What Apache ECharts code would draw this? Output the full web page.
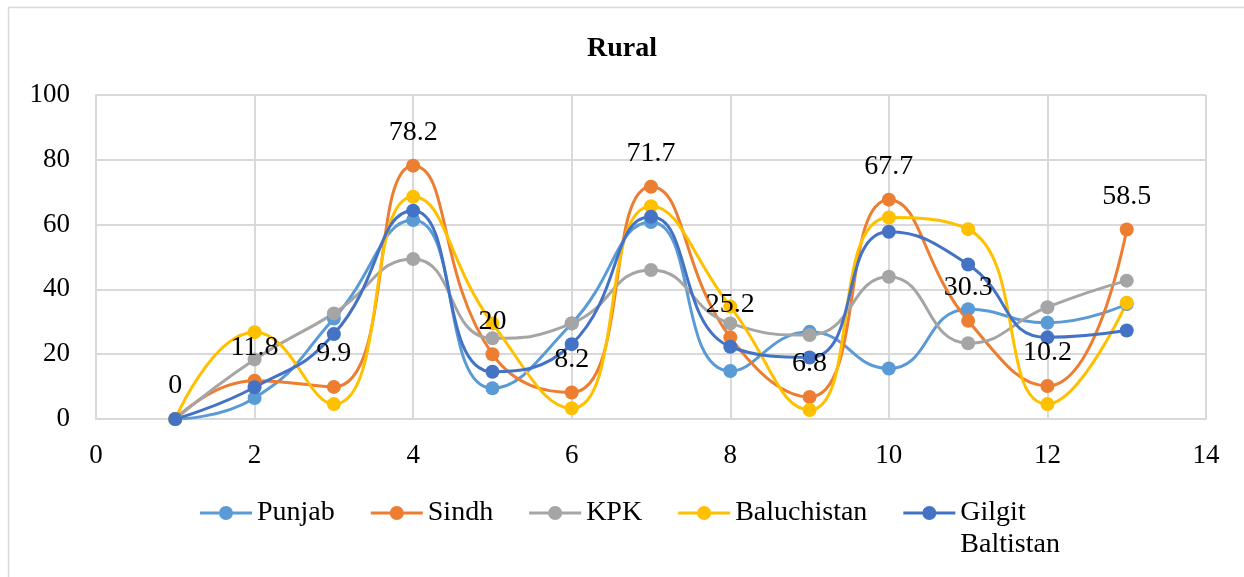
<!DOCTYPE html>
<html>
<head>
<meta charset="utf-8">
<script src="https://cdn.jsdelivr.net/npm/echarts@6/dist/echarts.min.js"></script>
<style>
  html, body { margin: 0; padding: 0; background: #fff; }
  #echarts { width: 1244px; height: 577px; }
</style>
</head>
<body>
<div id="echarts"></div>
<script>
// x positions (1..13)
var xs = [1, 2, 3, 4, 5, 6, 7, 8, 9, 10, 11, 12, 13];

var punjab      = [0, 6.5, 31, 61.4, 9.5, 29.5, 60.8, 14.8, 26.9, 15.6, 33.9, 29.7, 35.5];
var sindh       = [0, 11.8, 9.9, 78.2, 20, 8.2, 71.7, 25.2, 6.8, 67.7, 30.3, 10.2, 58.5];
var kpk         = [0, 18.4, 32.6, 49.4, 24.9, 29.5, 46.0, 29.5, 25.9, 43.9, 23.4, 34.5, 42.7];
var baluchistan = [0, 26.8, 4.6, 68.6, 29.5, 3.3, 65.7, 34.7, 2.8, 62.2, 58.6, 4.6, 35.9];
var gilgit      = [0, 9.8, 26.2, 64.3, 14.6, 23.1, 62.4, 22.3, 19.0, 57.8, 47.7, 25.2, 27.3];

var FONT = '"Liberation Serif", "Times New Roman", serif';

// legend marker: line + dot on the first text line (tiny corner marks keep the 52x64 box)
var LEGEND_ICON = 'path://M0,0 L0.01,0 L0,0.01 Z M0,14.5 L52,14.5 L52,17.5 L0,17.5 Z ' +
    'M19,16 A7,7 0 1,1 33,16 A7,7 0 1,1 19,16 Z M52,64 L51.99,64 L52,63.99 Z';

function pairs(arr) {
    return xs.map(function (x, i) { return [x, arr[i]]; });
}

function makeSeries(name, arr, color, withLabel) {
    return {
        name: name,
        type: 'line',
        smooth: 0.5,
        data: pairs(arr),
        symbol: 'circle',
        symbolSize: 14,
        lineStyle: { color: color, width: 3 },
        itemStyle: { color: color },
        label: {
            show: !!withLabel,
            position: 'top',
            distance: 12,
            color: '#000',
            fontFamily: FONT,
            fontSize: 28,
            formatter: function (p) { return p.value[1]; }
        },
        emphasis: { disabled: true }
    };
}

var myChart = echarts.init(document.getElementById('echarts'));
var option = {
    animation: false,
    title: {
        text: 'Rural',
        left: 'center',
        top: 30,
        textStyle: { fontFamily: FONT, fontWeight: 'bold', fontSize: 28, color: '#000' }
    },
    graphic: [{
        type: 'rect',
        shape: { x: 8.5, y: 7.5, width: 1300, height: 700 },
        style: { fill: 'none', stroke: '#D9D9D9', lineWidth: 1.5 },
        silent: true
    }],
    legend: {
        left: 200,
        top: 497,
        padding: 0,
        itemWidth: 52,
        itemHeight: 64,
        itemGap: 36,
        icon: LEGEND_ICON,
        data: ['Punjab', 'Sindh', 'KPK', 'Baluchistan', 'Gilgit Baltistan'],
        formatter: function (name) {
            return name === 'Gilgit Baltistan' ? 'Gilgit\nBaltistan' : name + '\n ';
        },
        textStyle: {
            fontFamily: FONT, fontSize: 28, color: '#000', lineHeight: 32
        }
    },
    grid: {
        left: 96,
        right: 38,
        top: 95,
        bottom: 158
    },
    xAxis: {
        type: 'value',
        min: 0,
        max: 14,
        interval: 2,
        axisTick: { show: false },
        axisLine: { lineStyle: { color: '#D9D9D9', width: 2 } },
        splitLine: { show: true, lineStyle: { color: '#D9D9D9', width: 2 } },
        axisLabel: { color: '#000', fontFamily: FONT, fontSize: 27, margin: 23 }
    },
    yAxis: {
        type: 'value',
        min: 0,
        max: 100,
        interval: 20,
        axisTick: { show: false },
        axisLine: { show: true, lineStyle: { color: '#D9D9D9', width: 2 } },
        splitLine: { lineStyle: { color: '#D9D9D9', width: 2 } },
        axisLabel: { color: '#000', fontFamily: FONT, fontSize: 27, margin: 26 }
    },
    series: [
        makeSeries('Punjab', punjab, '#5B9BD5'),
        makeSeries('Sindh', sindh, '#ED7D31', true),
        makeSeries('KPK', kpk, '#A5A5A5'),
        makeSeries('Baluchistan', baluchistan, '#FFC000'),
        makeSeries('Gilgit Baltistan', gilgit, '#4472C4')
    ]
};
myChart.setOption(option);
</script>
</body>
</html>
